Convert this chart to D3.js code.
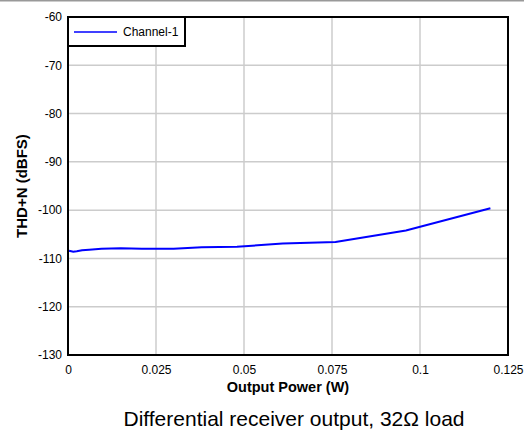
<!DOCTYPE html>
<html><head><meta charset="utf-8">
<script src="https://cdn.jsdelivr.net/npm/d3@7"></script>
<style>body{margin:0;background:#fff;}svg{display:block;font-family:"Liberation Sans",Arial,sans-serif;}</style>
</head><body><svg id="c" width="524" height="431"></svg>
<script>
const xValues = [0.0003,0.0015,0.0025,0.004,0.006,0.0095,0.015,0.021,0.030,0.038,0.048,0.061,0.076,0.096,0.120];
const yValues = [-108.4,-108.6,-108.5,-108.3,-108.2,-108.0,-107.9,-108.0,-108.0,-107.7,-107.6,-106.9,-106.6,-104.2,-99.6];
const xTicks = [0,0.025,0.05,0.075,0.1,0.125];
const xTickLabels = ["0","0.025","0.05","0.075","0.1","0.125"];
const yTicks = [-60,-70,-80,-90,-100,-110,-120,-130];
const yTickLabels = ["-60","-70","-80","-90","-100","-110","-120","-130"];
const seriesName = "Channel-1";
const xTitle = "Output Power (W)";
const yTitle = "THD+N (dBFS)";
const caption = "Differential receiver output, 32\u03A9 load";

const svg = d3.select("#c");
const L=68,R=508,T=17,B=355;
const x = d3.scaleLinear().domain([0,0.125]).range([L,R]);
const y = d3.scaleLinear().domain([-130,-60]).range([B,T]);
const FF = "Liberation Sans, Arial, sans-serif";

svg.append("line").attr("x1",0).attr("x2",524).attr("y1",0.5).attr("y2",0.5).attr("stroke","#999").attr("stroke-width",2);

const g = svg.append("g");
g.selectAll(".vg").data(xTicks.slice(1,-1)).join("line")
 .attr("x1",d=>x(d)).attr("x2",d=>x(d)).attr("y1",T).attr("y2",B)
 .attr("stroke","#ccc").attr("stroke-width",1.5);
g.selectAll(".hg").data(yTicks.slice(1,-1)).join("line")
 .attr("y1",d=>y(d)).attr("y2",d=>y(d)).attr("x1",L).attr("x2",R)
 .attr("stroke","#ccc").attr("stroke-width",1.5);

const line = d3.line().x((d,i)=>x(xValues[i])).y(d=>y(d));
svg.append("path").datum(yValues).attr("d",line).attr("fill","none").attr("stroke","#0000ff").attr("stroke-width",2);

svg.append("rect").attr("x",L).attr("y",T).attr("width",R-L).attr("height",B-T)
 .attr("fill","none").attr("stroke","#000").attr("stroke-width",2);

const xa = svg.append("g").attr("transform",`translate(0,${B})`)
 .call(d3.axisBottom(x).tickValues(xTicks).tickFormat((d,i)=>xTickLabels[i]).tickSize(0));
xa.select(".domain").remove();
xa.selectAll("text").attr("y",19).attr("dy",0).attr("font-size",12).attr("fill","#000").attr("font-family",FF);
const ya = svg.append("g").attr("transform",`translate(${L},0)`)
 .call(d3.axisLeft(y).tickValues(yTicks).tickFormat((d,i)=>yTickLabels[i]).tickSize(0).tickPadding(6));
ya.select(".domain").remove();
ya.selectAll("text").attr("font-size",12).attr("fill","#000").attr("font-family",FF);

svg.append("text").attr("x",(L+R)/2).attr("y",392).attr("text-anchor","middle")
 .attr("font-size",14.5).attr("font-weight","bold").text(xTitle);
svg.append("text").attr("transform",`translate(27,${(T+B)/2}) rotate(-90)`).attr("text-anchor","middle")
 .attr("font-size",15).attr("font-weight","bold").text(yTitle);
svg.append("text").attr("x",294).attr("y",426).attr("text-anchor","middle")
 .attr("font-size",21).text(caption);

const lg = svg.append("g");
lg.append("rect").attr("x",L).attr("y",T).attr("width",117).attr("height",29).attr("fill","#fff").attr("stroke","#000").attr("stroke-width",2);
lg.append("line").attr("x1",74).attr("x2",117).attr("y1",32).attr("y2",32).attr("stroke","#0000ff").attr("stroke-width",1.5);
lg.append("text").attr("x",123).attr("y",36).attr("font-size",12).text(seriesName);
</script></body></html>
